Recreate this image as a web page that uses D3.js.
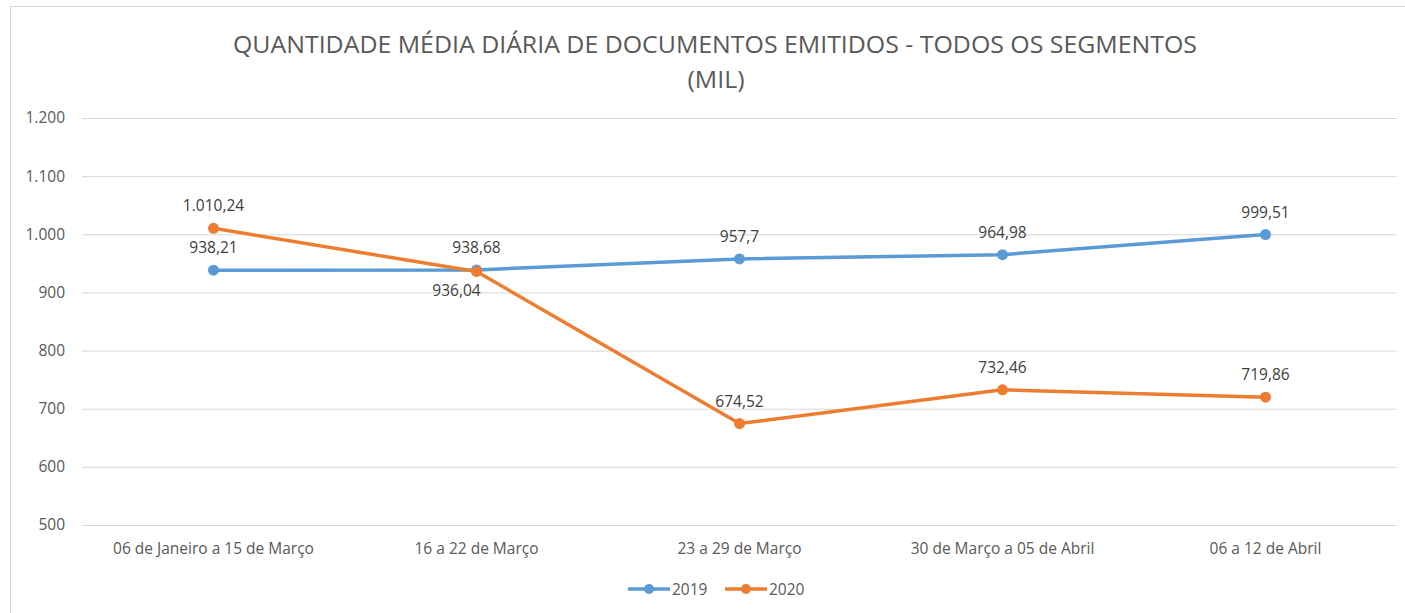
<!DOCTYPE html>
<html><head><meta charset="utf-8">
<script src="https://cdn.jsdelivr.net/npm/d3@7"></script>
<style>body{margin:0;background:#fff;} text{font-family:"Open Sans",sans-serif;}</style>
</head><body><svg id="c" width="1405" height="613"></svg>
<script>
const categories = ["06 de Janeiro a 15 de Março","16 a 22 de Março","23 a 29 de Março","30 de Março a 05 de Abril","06 a 12 de Abril"];
const series2019 = [938.21, 938.68, 957.7, 964.98, 999.51];
const series2020 = [1010.24, 936.04, 674.52, 732.46, 719.86];
const labels2019 = ["938,21","938,68","957,7","964,98","999,51"];
const labels2020 = ["1.010,24","936,04","674,52","732,46","719,86"];
const labelPos2020 = ["above","below","above","above","above"];
const yTicks = [500,600,700,800,900,1000,1100,1200];
const yTickLabels = ["500","600","700","800","900","1.000","1.100","1.200"];
const seriesNames = ["2019","2020"];
const colors = ["#5B9BD5","#ED7D31"];

(function(){
const svg = d3.select("#c");
const pL = 82, pR = 1397, pT = 118, pB = 525;
const x = d3.scaleBand().domain(categories).range([pL,pR]);
const y = d3.scaleLinear().domain([500,1200]).range([pB,pT]);
const cx = d => x(d) + x.bandwidth()/2;
const fs = 15.5;

// frame
svg.append("line").attr("x1",10).attr("x2",1405).attr("y1",6.5).attr("y2",6.5).attr("stroke","#d9d9d9");
svg.append("line").attr("x1",10.5).attr("x2",10.5).attr("y1",6).attr("y2",613).attr("stroke","#d9d9d9");

// title
svg.append("text").attr("x",715).attr("y",53).attr("text-anchor","middle").attr("fill","#595959")
  .attr("font-size",24).attr("textLength",964).attr("lengthAdjust","spacingAndGlyphs")
  .text("QUANTIDADE MÉDIA DIÁRIA DE DOCUMENTOS EMITIDOS - TODOS OS SEGMENTOS");
svg.append("text").attr("x",716).attr("y",88).attr("text-anchor","middle").attr("fill","#595959")
  .attr("font-size",24).attr("textLength",57).attr("lengthAdjust","spacingAndGlyphs").text("(MIL)");

// gridlines
const yAxis = d3.axisLeft(y).tickValues(yTicks).tickSize(-(pR-pL)).tickFormat((d,i)=>yTickLabels[i]).tickPadding(17);
const ga = svg.append("g").attr("transform",`translate(${pL},0)`).call(yAxis);
ga.select(".domain").remove();
ga.selectAll(".tick line").attr("stroke","#d9d9d9").attr("stroke-width",1);
ga.selectAll(".tick text").attr("fill","#595959").attr("font-size",fs).attr("font-family","Open Sans, sans-serif");

// x axis labels
const xAxis = d3.axisBottom(x).tickSize(0).tickPadding(18);
const gx = svg.append("g").attr("transform",`translate(0,${pB})`).call(xAxis);
gx.select(".domain").remove();
gx.selectAll(".tick text").attr("fill","#595959").attr("font-size",fs).attr("font-family","Open Sans, sans-serif");

const line = d3.line().x((d,i)=>cx(categories[i])).y(d=>y(d));
[series2019, series2020].forEach((s,k)=>{
  svg.append("path").datum(s).attr("d",line).attr("fill","none").attr("stroke",colors[k]).attr("stroke-width",3.5).attr("stroke-linejoin","round");
});
[series2019, series2020].forEach((s,k)=>{
  svg.selectAll(null).data(s).enter().append("circle").attr("cx",(d,i)=>cx(categories[i])).attr("cy",d=>y(d)).attr("r",5.5).attr("fill",colors[k]);
});
// labels
svg.selectAll(null).data(series2019).enter().append("text")
  .attr("x",(d,i)=>cx(categories[i])).attr("y",d=>y(d)-17).attr("text-anchor","middle").attr("fill","#404040").attr("font-size",fs)
  .text((d,i)=>labels2019[i]);
svg.selectAll(null).data(series2020).enter().append("text")
  .attr("x",(d,i)=>cx(categories[i]) - (labelPos2020[i]==="below"?20:0))
  .attr("y",(d,i)=>labelPos2020[i]==="above"? y(d)-17 : y(d)+25).attr("text-anchor","middle").attr("fill","#404040").attr("font-size",fs)
  .text((d,i)=>labels2020[i]);

// legend
const lg = svg.append("g").attr("transform","translate(628,589)");
seriesNames.forEach((n,k)=>{
  const g = lg.append("g").attr("transform",`translate(${k*97},0)`);
  g.append("line").attr("x1",0).attr("x2",42).attr("y1",0).attr("y2",0).attr("stroke",colors[k]).attr("stroke-width",3.5);
  g.append("circle").attr("cx",21).attr("cy",0).attr("r",5).attr("fill",colors[k]);
  g.append("text").attr("x",44).attr("y",5.5).attr("fill","#595959").attr("font-size",fs).text(n);
});
})();
</script></body></html>
